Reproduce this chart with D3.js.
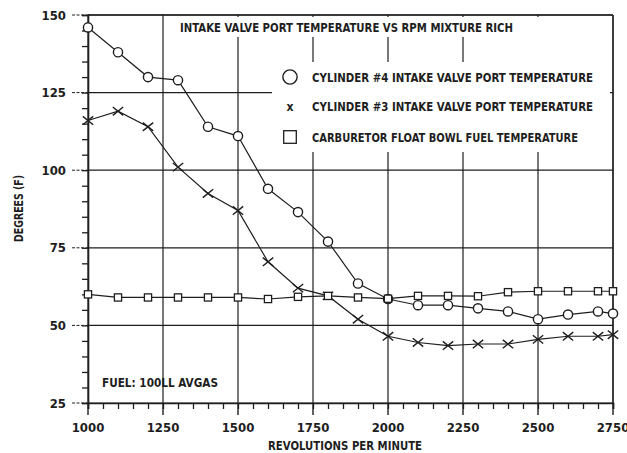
<!DOCTYPE html>
<html>
<head>
<meta charset="utf-8">
<script src="https://cdn.jsdelivr.net/npm/d3@7"></script>
<style>
  body { margin: 0; background: #fff; }
  svg text { font-family: "Liberation Sans Narrow", "DejaVu Sans Condensed", "Liberation Sans", sans-serif; font-weight: bold; fill: #1e1e1e; }
</style>
</head>
<body>
<svg id="chart" width="627" height="453"></svg>
<script>
var rpm = [1000, 1100, 1200, 1300, 1400, 1500, 1600, 1700, 1800, 1900,
           2000, 2100, 2200, 2300, 2400, 2500, 2600, 2700, 2750];
var cyl4 = [146, 138, 130, 129, 114, 111, 94, 86.5, 77, 63.5,
            58.5, 56.5, 56.5, 55.5, 54.5, 52, 53.5, 54.5, 53.8];
var cyl3 = [116, 119, 114, 101, 92.5, 87, 70.5, 62, 59.5, 52,
            46.5, 44.5, 43.5, 44, 44, 45.5, 46.5, 46.5, 47];
var carb = [60, 59, 59, 59, 59, 59, 58.5, 59.2, 59.5, 59,
            58.6, 59.5, 59.5, 59.4, 60.7, 61, 61, 61, 61];
var xTicks = [1000, 1250, 1500, 1750, 2000, 2250, 2500, 2750];
var yTicks = [25, 50, 75, 100, 125, 150];
var chartTitle = 'INTAKE VALVE PORT TEMPERATURE VS RPM MIXTURE RICH';
var legendLabels = ['CYLINDER #4 INTAKE VALVE PORT TEMPERATURE',
                    'CYLINDER #3 INTAKE VALVE PORT TEMPERATURE',
                    'CARBURETOR FLOAT BOWL FUEL TEMPERATURE'];
var note = 'FUEL: 100LL AVGAS';
var xTitle = 'REVOLUTIONS PER MINUTE';
var yTitle = 'DEGREES (F)';

var ink = '#1e1e1e';
var svg = d3.select('#chart');

var x = d3.scaleLinear().domain([1000, 2750]).range([88, 613]);
var y = d3.scaleLinear().domain([25, 150]).range([403, 15]);

// grid
var grid = svg.append('g').attr('stroke', ink).attr('stroke-width', 1.2);
grid.selectAll('line.h')
  .data(yTicks)
  .enter()
  .append('line')
  .attr('x1', x(1000))
  .attr('x2', x(2750))
  .attr('y1', function(d) { return y(d); })
  .attr('y2', function(d) { return y(d); });
grid.selectAll('line.v')
  .data(xTicks)
  .enter()
  .append('line')
  .attr('x1', function(d) { return x(d); })
  .attr('x2', function(d) { return x(d); })
  .attr('y1', y(150))
  .attr('y2', y(25));

// dashed major ticks left of the y axis
svg.append('g')
  .selectAll('line')
  .data(yTicks)
  .enter()
  .append('line')
  .attr('x1', x(1000) - 16)
  .attr('x2', x(1000))
  .attr('y1', function(d) { return y(d); })
  .attr('y2', function(d) { return y(d); })
  .attr('stroke', ink)
  .attr('stroke-dasharray', '3,1.5');

// minor ticks
var yMinor = svg.append('g')
  .attr('transform', 'translate(' + x(1000) + ',0)')
  .call(d3.axisLeft(y).ticks(25).tickSize(6).tickFormat(''));
var xMinor = svg.append('g')
  .attr('transform', 'translate(0,' + y(25) + ')')
  .call(d3.axisBottom(x).tickValues(d3.range(1000, 2751, 50)).tickSize(6).tickFormat(''));
[yMinor, xMinor].forEach(function(g) {
  g.select('.domain').attr('stroke-width', 1.6).attr('stroke', ink);
  g.selectAll('.tick line').attr('stroke', ink).attr('stroke-width', 1.3);
});

// major ticks below the x axis
svg.append('g')
  .selectAll('line')
  .data(xTicks)
  .enter()
  .append('line')
  .attr('x1', function(d) { return x(d); })
  .attr('x2', function(d) { return x(d); })
  .attr('y1', y(25))
  .attr('y2', y(25) + 12)
  .attr('stroke', ink)
  .attr('stroke-width', 1.4);

// white areas behind the title and legend
svg.append('rect').attr('x', 172).attr('y', 17).attr('width', 438).attr('height', 20).attr('fill', '#fff');
svg.append('rect').attr('x', 272).attr('y', 62).attr('width', 338).attr('height', 90).attr('fill', '#fff');
svg.append('rect').attr('x', 520).attr('y', 36).attr('width', 90).attr('height', 30).attr('fill', '#fff');

// frame top and right
svg.append('line').attr('x1', x(1000)).attr('x2', x(2750)).attr('y1', y(150)).attr('y2', y(150))
  .attr('stroke', ink).attr('stroke-width', 1.3);
svg.append('line').attr('x1', x(2750)).attr('x2', x(2750)).attr('y1', y(150)).attr('y2', y(25))
  .attr('stroke', ink).attr('stroke-width', 1.3);

// tick labels
svg.append('g')
  .selectAll('text')
  .data(xTicks)
  .enter()
  .append('text')
  .attr('x', function(d) { return x(d); })
  .attr('y', 432)
  .attr('text-anchor', 'middle')
  .style('font-size', '13px')
  .text(function(d) { return d; });
svg.append('g')
  .selectAll('text')
  .data(yTicks)
  .enter()
  .append('text')
  .attr('x', 66)
  .attr('y', function(d) { return y(d) + 4.5; })
  .attr('text-anchor', 'end')
  .style('font-size', '13px')
  .text(function(d) { return d; });

// axis titles
svg.append('text')
  .attr('x', 345)
  .attr('y', 450)
  .attr('text-anchor', 'middle')
  .attr('textLength', 154)
  .attr('lengthAdjust', 'spacingAndGlyphs')
  .style('font-size', '11.5px')
  .text(xTitle);
svg.append('text')
  .attr('transform', 'translate(23,208.5) rotate(-90)')
  .attr('text-anchor', 'middle')
  .attr('textLength', 67)
  .attr('lengthAdjust', 'spacingAndGlyphs')
  .style('font-size', '11.5px')
  .text(yTitle);

// title and note
svg.append('text')
  .attr('x', 180)
  .attr('y', 32)
  .attr('textLength', 333)
  .attr('lengthAdjust', 'spacingAndGlyphs')
  .style('font-size', '12.5px')
  .text(chartTitle);
svg.append('text')
  .attr('x', 102)
  .attr('y', 386.5)
  .attr('textLength', 116)
  .attr('lengthAdjust', 'spacingAndGlyphs')
  .style('font-size', '12.5px')
  .text(note);

// data lines
var series = [
  { values: cyl4, marker: 'circle' },
  { values: cyl3, marker: 'cross' },
  { values: carb, marker: 'square' }
];
var line = d3.line()
  .x(function(d) { return x(d[0]); })
  .y(function(d) { return y(d[1]); });

function drawMarker(g, type, cx, cy, s) {
  if (type === 'circle') {
    g.append('circle').attr('cx', cx).attr('cy', cy).attr('r', 4.6 * s)
      .attr('fill', '#fff').attr('stroke', ink).attr('stroke-width', 1.4);
  } else if (type === 'square') {
    g.append('rect').attr('x', cx - 3.6 * s).attr('y', cy - 3.6 * s)
      .attr('width', 7.2 * s).attr('height', 7.2 * s)
      .attr('fill', '#fff').attr('stroke', ink).attr('stroke-width', 1.3);
  } else {
    var r = 5.2 * s;
    g.append('path')
      .attr('d', 'M' + (cx - r) + ',' + (cy - r * 0.8) + 'L' + (cx + r) + ',' + (cy + r * 0.8) +
                 'M' + (cx - r) + ',' + (cy + r * 0.8) + 'L' + (cx + r) + ',' + (cy - r * 0.8))
      .attr('stroke', ink).attr('stroke-width', 1.4).attr('fill', 'none');
  }
}

series.forEach(function(s) {
  var pts = rpm.map(function(r, i) { return [r, s.values[i]]; });
  svg.append('path')
    .datum(pts)
    .attr('d', line)
    .attr('fill', 'none')
    .attr('stroke', ink)
    .attr('stroke-width', 1.2);
});
series.forEach(function(s) {
  var g = svg.append('g');
  rpm.forEach(function(r, i) {
    drawMarker(g, s.marker, x(r), y(s.values[i]), 1);
  });
});

// legend
var legendY = [77, 106, 137];
var lg = svg.append('g');
drawMarker(lg, 'circle', 290, legendY[0], 1.55);
lg.append('text').attr('x', 290).attr('y', legendY[1] + 4.5).attr('text-anchor', 'middle')
  .style('font-size', '12px').text('x');
drawMarker(lg, 'square', 290, legendY[2], 1.75);
lg.selectAll('text.label')
  .data(legendLabels)
  .enter()
  .append('text')
  .attr('x', 312)
  .attr('y', function(d, i) { return legendY[i] + 4.5; })
  .attr('textLength', function(d, i) { return i === 2 ? 266 : 281; })
  .attr('lengthAdjust', 'spacingAndGlyphs')
  .style('font-size', '12.5px')
  .text(function(d) { return d; });
</script>
</body>
</html>
